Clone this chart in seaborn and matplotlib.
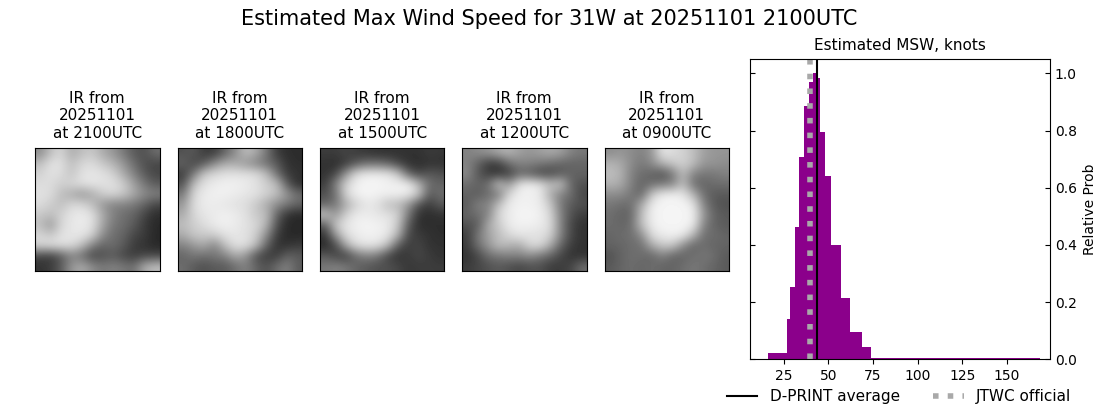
import matplotlib
matplotlib.use("Agg")
import matplotlib.pyplot as plt
import numpy as np
import seaborn as sns

# histogram, bins are not evenly spaced
bin_edges = [16, 26.7, 28.4, 31.2, 33.4, 36.2, 39, 41.3, 43, 45.2, 48, 51.4, 57, 62, 68.8, 73.9, 168.8]
rel_prob = [0.022, 0.141, 0.253, 0.463, 0.707, 0.886, 0.97, 1.0, 0.984, 0.795, 0.641, 0.40, 0.214, 0.096, 0.043, 0.005]
dprint_avg = 43.5
jtwc_official = 40
x_ticks = [25, 50, 75, 100, 125, 150]
y_ticks = [0.0, 0.2, 0.4, 0.6, 0.8, 1.0]

panel_times = ["2100UTC", "1800UTC", "1500UTC", "1200UTC", "0900UTC"]
panel_date = "20251101"

# coarse brightness of each IR image, estimated by eye
ir_2100 = [
    [140, 190, 215, 170, 190, 200, 170, 150, 120, 90, 80, 110],
    [190, 225, 225, 190, 215, 220, 200, 180, 150, 110, 80, 70],
    [210, 225, 220, 195, 225, 230, 225, 210, 170, 130, 90, 70],
    [220, 220, 205, 215, 225, 230, 225, 225, 205, 160, 120, 90],
    [225, 220, 190, 170, 150, 170, 205, 215, 200, 170, 140, 130],
    [220, 205, 190, 215, 215, 190, 150, 130, 130, 120, 100, 70],
    [200, 190, 210, 230, 235, 225, 170, 130, 110, 100, 70, 45],
    [190, 150, 215, 230, 235, 225, 165, 120, 110, 90, 60, 40],
    [215, 200, 225, 230, 230, 210, 140, 110, 100, 70, 60, 40],
    [215, 225, 225, 220, 190, 130, 100, 110, 90, 60, 50, 40],
    [70, 60, 90, 130, 110, 70, 80, 90, 70, 60, 70, 70],
    [50, 60, 90, 150, 170, 140, 120, 130, 120, 110, 170, 190],
]
ir_1800 = [
    [80, 90, 60, 60, 100, 140, 190, 170, 120, 60, 45, 45],
    [100, 70, 90, 140, 170, 170, 150, 130, 110, 90, 50, 45],
    [60, 120, 200, 215, 225, 225, 225, 220, 190, 110, 60, 50],
    [80, 190, 225, 235, 240, 240, 235, 225, 205, 190, 90, 45],
    [120, 215, 235, 240, 240, 235, 230, 225, 210, 190, 150, 110],
    [150, 220, 235, 235, 230, 225, 220, 200, 170, 140, 120, 100],
    [170, 215, 230, 235, 240, 235, 225, 200, 190, 100, 50, 40],
    [190, 205, 220, 235, 240, 235, 225, 215, 180, 80, 40, 40],
    [170, 200, 200, 205, 225, 230, 225, 205, 140, 60, 40, 40],
    [130, 150, 170, 130, 190, 225, 225, 190, 100, 50, 50, 60],
    [100, 120, 110, 120, 130, 170, 150, 80, 60, 60, 100, 90],
    [110, 90, 80, 90, 90, 110, 130, 100, 80, 110, 130, 90],
]
ir_1500 = [
    [60, 60, 70, 60, 55, 50, 50, 50, 50, 50, 60, 55],
    [50, 45, 60, 90, 110, 110, 100, 70, 50, 45, 50, 50],
    [50, 70, 150, 220, 235, 235, 230, 200, 100, 70, 90, 80],
    [60, 130, 210, 240, 245, 245, 240, 240, 240, 180, 110, 100],
    [80, 110, 215, 240, 245, 240, 240, 240, 235, 200, 90, 110],
    [100, 120, 170, 210, 230, 225, 190, 185, 150, 80, 60, 90],
    [200, 150, 210, 235, 235, 230, 225, 210, 120, 50, 45, 50],
    [90, 200, 230, 240, 245, 240, 235, 200, 90, 45, 45, 45],
    [50, 150, 220, 235, 240, 240, 230, 180, 70, 60, 50, 45],
    [40, 70, 170, 220, 230, 225, 190, 90, 60, 70, 50, 50],
    [90, 70, 60, 110, 130, 120, 70, 50, 60, 70, 60, 50],
    [120, 130, 120, 100, 90, 80, 80, 70, 55, 60, 60, 60],
]
ir_1200 = [
    [130, 140, 150, 170, 180, 160, 150, 160, 170, 160, 130, 120],
    [130, 100, 60, 60, 110, 130, 130, 120, 110, 100, 100, 100],
    [140, 90, 60, 50, 60, 100, 90, 70, 70, 90, 100, 100],
    [110, 100, 110, 200, 150, 225, 240, 225, 190, 200, 100, 80],
    [100, 90, 110, 120, 215, 240, 240, 235, 170, 130, 110, 70],
    [90, 130, 130, 190, 235, 240, 240, 235, 200, 120, 90, 80],
    [100, 110, 130, 215, 235, 245, 245, 240, 215, 130, 80, 60],
    [80, 90, 170, 200, 235, 240, 240, 235, 220, 130, 70, 50],
    [60, 120, 160, 190, 215, 230, 225, 225, 210, 130, 70, 50],
    [60, 110, 150, 190, 180, 170, 215, 220, 170, 100, 60, 50],
    [50, 70, 110, 120, 130, 130, 140, 120, 100, 70, 50, 50],
    [60, 70, 80, 90, 80, 70, 80, 80, 60, 60, 70, 110],
]
ir_0900 = [
    [140, 150, 140, 130, 150, 230, 220, 210, 190, 160, 150, 150],
    [180, 170, 140, 120, 140, 180, 200, 210, 190, 150, 150, 140],
    [190, 180, 130, 110, 100, 80, 120, 190, 130, 120, 120, 130],
    [180, 170, 130, 100, 110, 120, 130, 190, 110, 100, 110, 110],
    [140, 140, 120, 100, 200, 235, 240, 230, 180, 110, 90, 90],
    [120, 110, 110, 170, 235, 245, 245, 245, 230, 130, 90, 80],
    [110, 100, 100, 190, 240, 245, 245, 245, 240, 150, 100, 90],
    [110, 100, 110, 190, 235, 245, 245, 245, 235, 130, 100, 90],
    [100, 110, 110, 140, 220, 235, 240, 235, 180, 110, 110, 100],
    [100, 100, 110, 110, 170, 200, 200, 140, 100, 110, 100, 100],
    [80, 100, 110, 110, 100, 130, 100, 100, 110, 120, 110, 90],
    [90, 100, 110, 100, 110, 100, 100, 110, 120, 110, 100, 90],
]
ir_frames = [ir_2100, ir_1800, ir_1500, ir_1200, ir_0900]

W, H = 1100, 409


def px_axes(fig, left, top, right, bottom):
    return fig.add_axes([left / W, 1 - bottom / H, (right - left) / W, (bottom - top) / H])


fig = plt.figure(figsize=(W / 100, H / 100), dpi=100)
fig.suptitle("Estimated Max Wind Speed for 31W at 20251101 2100UTC", fontsize=15, x=0.4995, y=0.978)

panel_lefts = [35, 177.5, 320, 462, 604.5]
for left, frame, label in zip(panel_lefts, ir_frames, panel_times):
    ax = px_axes(fig, left, 148, left + 124.5, 271)
    ax.imshow(np.array(frame), cmap="gray", vmin=0, vmax=255, aspect="auto", interpolation="bicubic")
    ax.set_xticks([])
    ax.set_yticks([])
    ax.set_title(f"IR from\n{panel_date}\nat {label}", fontsize=11, pad=7.5)

ax = px_axes(fig, 750, 59, 1050, 359.3)
mids = [(a + b) / 2 for a, b in zip(bin_edges[:-1], bin_edges[1:])]
sns.histplot(x=mids, weights=rel_prob, bins=bin_edges, color="#8b008b", alpha=1, linewidth=0, ax=ax)
l1 = ax.axvline(dprint_avg, color="black", lw=1.5, label="D-PRINT average")
l2 = ax.axvline(jtwc_official, color="darkgray", lw=4, ls=":", label="JTWC official")
ax.set_xlim(6.2, 174.2)
ax.set_ylim(0, 1.05)
ax.set_xticks(x_ticks)
ax.set_ylabel("")
ax.set_yticks(y_ticks)
# ticks point inward on both sides, labels only on the right
ax.tick_params(axis="y", direction="in", left=True, right=True, labelleft=False, labelright=True)
ax.yaxis.set_label_position("right")
ax.set_ylabel("Relative Prob", labelpad=4.5)
ax.set_title("Estimated MSW, knots", fontsize=11, pad=6.5)

fig.legend(handles=[l1, l2], loc="center", bbox_to_anchor=(899 / W, 1 - 397 / H), ncol=2, frameon=False,
           fontsize=11, columnspacing=2.2)

fig.savefig("out.png", dpi=100)
